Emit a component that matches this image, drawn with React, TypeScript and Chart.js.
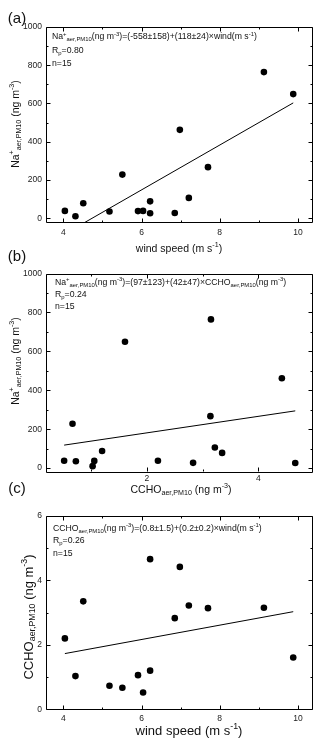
import React, { useEffect, useRef } from "react";
import { Chart, registerables } from "chart.js";

Chart.register(...registerables);

const FONT = '"Liberation Sans", Arial, sans-serif';

// 15 samples, ordered by wind speed (m s-1)
const windSpeed = [4.04, 4.31, 4.51, 5.18, 5.51, 5.91, 6.04, 6.22, 6.22, 6.85, 6.98, 7.21, 7.7, 9.13, 9.88];
const naAerPM10 = [38, 10, 78, 35, 228, 37, 38, 26, 88, 27, 462, 106, 267, 764, 649];
const cchoAerPM10 = [2.2, 1.03, 3.35, 0.73, 0.67, 1.06, 0.52, 4.66, 1.2, 2.83, 4.42, 3.22, 3.14, 3.15, 1.61];

// regression line end points
const fitAX = [4.04, 9.88];
const fitAY = [-82, 603];
const fitBX = [0.52, 4.66];
const fitBY = [118, 294];
const fitCX = [4.04, 9.88];
const fitCY = [1.73, 3.03];

// tick values
const xTicksWind = [4, 6, 8, 10];
const xMinorWind = [5, 7, 9];
const yTicksNa = [0, 200, 400, 600, 800, 1000];
const yMinorNa = [100, 300, 500, 700, 900];
const xTicksCcho = [2, 4];
const xMinorCcho = [1, 3];
const yTicksCcho = [0, 2, 4, 6];
const yMinorCcho = [1, 3, 5];

type Seg = [string, string?];

const NA: Seg[] = [["Na"], ["+", "sup"], ["aer,PM10", "sub"]];
const CCHO: Seg[] = [["CCHO"], ["aer,PM10", "sub"]];
const NG: Seg[] = [["(ng m"], ["-3", "sup"], [")"]];
const WIND_TITLE: Seg[] = [["wind speed (m s"], ["-1", "sup"], [")"]];

interface Panel {
  top: number;
  height: number;
  areaTop: number;
  areaBottom: number;
  xMin: number;
  xMax: number;
  yMin: number;
  yMax: number;
  xTicks: number[];
  xMinor: number[];
  yTicks: number[];
  yMinor: number[];
  xs: number[];
  ys: number[];
  fitX: number[];
  fitY: number[];
  xTickPad: number;
  label: string;
  labelPos: [number, number];
  xTitle: Seg[];
  xTitlePos: [number, number];
  xTitleSize: number;
  yTitle: Seg[];
  yTitlePos: [number, number];
  yTitleSize: number;
  notes: Seg[][];
  notesX: number;
  notesY: number[];
}

const panels: Panel[] = [
  {
    top: 0, height: 258, areaTop: 27, areaBottom: 222,
    xMin: 3.557, xMax: 10.36, yMin: -20, yMax: 1000,
    xTicks: xTicksWind, xMinor: xMinorWind, yTicks: yTicksNa, yMinor: yMinorNa,
    xs: windSpeed, ys: naAerPM10, fitX: fitAX, fitY: fitAY, xTickPad: 6,
    label: "(a)", labelPos: [17, 18.5],
    xTitle: WIND_TITLE, xTitlePos: [179, 249], xTitleSize: 10.5,
    yTitle: [...NA, [" "], ...NG], yTitlePos: [16, 124], yTitleSize: 10.5,
    notes: [
      [...NA, ...NG, ["=(-558±158)+(118±24)×wind(m s"], ["-1", "sup"], [")"]],
      [["R"], ["p", "sub"], ["=0.80"]],
      [["n=15"]],
    ],
    notesX: 52, notesY: [37, 50.5, 64],
  },
  {
    top: 245, height: 255, areaTop: 28.5, areaBottom: 226,
    xMin: 0.195, xMax: 4.96, yMin: -15, yMax: 1000,
    xTicks: xTicksCcho, xMinor: xMinorCcho, yTicks: yTicksNa, yMinor: yMinorNa,
    xs: cchoAerPM10, ys: naAerPM10, fitX: fitBX, fitY: fitBY, xTickPad: 3,
    label: "(b)", labelPos: [17, 11.5],
    xTitle: [...CCHO, [" "], ...NG], xTitlePos: [181, 245], xTitleSize: 10.5,
    yTitle: [...NA, [" "], ...NG], yTitlePos: [16, 116], yTitleSize: 10.5,
    notes: [
      [...NA, ...NG, ["=(97±123)+(42±47)×"], ...CCHO, ...NG],
      [["R"], ["p", "sub"], ["=0.24"]],
      [["n=15"]],
    ],
    notesX: 55, notesY: [37.5, 49.5, 61.5],
  },
  {
    top: 480, height: 269, areaTop: 36, areaBottom: 229.3,
    xMin: 3.557, xMax: 10.36, yMin: 0, yMax: 6,
    xTicks: xTicksWind, xMinor: xMinorWind, yTicks: yTicksCcho, yMinor: yMinorCcho,
    xs: windSpeed, ys: cchoAerPM10, fitX: fitCX, fitY: fitCY, xTickPad: 4,
    label: "(c)", labelPos: [17, 9],
    xTitle: WIND_TITLE, xTitlePos: [189, 251], xTitleSize: 13,
    yTitle: [...CCHO, [" "], ...NG], yTitlePos: [29, 137], yTitleSize: 13,
    notes: [
      [...CCHO, ...NG, ["=(0.8±1.5)+(0.2±0.2)×wind(m s"], ["-1", "sup"], [")"]],
      [["R"], ["p", "sub"], ["=0.26"]],
      [["n=15"]],
    ],
    notesX: 53, notesY: [48.5, 61, 73.5],
  },
];

function drawRich(
  ctx: CanvasRenderingContext2D,
  segs: Seg[],
  x: number,
  y: number,
  size: number,
  align: "left" | "center"
) {
  const small = size * 0.68;
  const parts = segs.map(([t, k]) => {
    const fs = k ? small : size;
    ctx.font = `${fs}px ${FONT}`;
    return { t, k, fs, w: ctx.measureText(t).width };
  });
  const total = parts.reduce((s, p) => s + p.w, 0);
  let cx = align === "center" ? x - total / 2 : x;
  ctx.textAlign = "left";
  ctx.textBaseline = "middle";
  for (const p of parts) {
    ctx.font = `${p.fs}px ${FONT}`;
    const dy = p.k === "sub" ? size * 0.3 : p.k === "sup" ? -size * 0.33 : 0;
    ctx.fillText(p.t, cx, y + dy);
    cx += p.w;
  }
}

function makePlugin(p: Panel) {
  return {
    id: "originFrame",
    afterDatasetsDraw(chart: any) {
      const { ctx, chartArea: a, scales } = chart;
      const xs = scales.x;
      const ys = scales.y;
      ctx.save();
      ctx.strokeStyle = "#000";
      ctx.lineWidth = 1;
      ctx.beginPath();
      ctx.rect(Math.round(a.left) + 0.5, Math.round(a.top) + 0.5, Math.round(a.right - a.left), Math.round(a.bottom - a.top));
      ctx.stroke();
      const seg = (x1: number, y1: number, x2: number, y2: number) => {
        ctx.beginPath();
        ctx.moveTo(x1, y1);
        ctx.lineTo(x2, y2);
        ctx.stroke();
      };
      const L = Math.round(a.left) + 0.5;
      const R = Math.round(a.right) + 0.5;
      const T = Math.round(a.top) + 0.5;
      const B = Math.round(a.bottom) + 0.5;
      const xTick = (v: number, len: number) => {
        const px = Math.round(xs.getPixelForValue(v)) + 0.5;
        seg(px, B, px, B - len);
        seg(px, T, px, T + len);
      };
      const yTick = (v: number, len: number) => {
        const py = Math.round(ys.getPixelForValue(v)) + 0.5;
        seg(L, py, L + len, py);
        seg(R, py, R - len, py);
      };
      p.xTicks.forEach((v) => xTick(v, 4));
      p.xMinor.forEach((v) => xTick(v, 2));
      p.yTicks.forEach((v) => yTick(v, 4));
      p.yMinor.forEach((v) => yTick(v, 2));

      ctx.fillStyle = "#111";
      ctx.font = `15px ${FONT}`;
      ctx.textAlign = "center";
      ctx.textBaseline = "middle";
      ctx.fillText(p.label, p.labelPos[0], p.labelPos[1]);
      drawRich(ctx, p.xTitle, p.xTitlePos[0], p.xTitlePos[1], p.xTitleSize, "center");
      ctx.save();
      ctx.translate(p.yTitlePos[0], p.yTitlePos[1]);
      ctx.rotate(-Math.PI / 2);
      drawRich(ctx, p.yTitle, 0, 0, p.yTitleSize, "center");
      ctx.restore();
      p.notes.forEach((line, i) => drawRich(ctx, line, p.notesX, p.notesY[i], 8.7, "left"));
      ctx.restore();
    },
  };
}

function PanelChart({ p }: { p: Panel }) {
  const ref = useRef<HTMLCanvasElement | null>(null);
  useEffect(() => {
    if (!ref.current) return;
    const points = p.xs.map((x, i) => ({ x, y: p.ys[i] }));
    const fit = p.fitX.map((x, i) => ({ x, y: p.fitY[i] }));
    const tickFont = { size: 8.5, family: FONT };
    const chart = new Chart(ref.current, {
      type: "scatter",
      data: {
        datasets: [
          {
            data: fit,
            showLine: true,
            borderColor: "#000",
            borderWidth: 1,
            pointRadius: 0,
            fill: false,
          } as any,
          {
            data: points,
            pointRadius: 3.3,
            pointBackgroundColor: "#000",
            pointBorderWidth: 0,
            backgroundColor: "#000",
          } as any,
        ],
      },
      options: {
        responsive: false,
        animation: false,
        devicePixelRatio: 1,
        events: [],
        layout: { padding: { top: p.areaTop, right: 8, left: 0, bottom: 0 } },
        plugins: { legend: { display: false }, tooltip: { enabled: false } },
        scales: {
          x: {
            type: "linear",
            min: p.xMin,
            max: p.xMax,
            grid: { display: false, drawTicks: false },
            border: { display: false },
            ticks: {
              font: tickFont,
              color: "#222",
              padding: p.xTickPad,
              maxRotation: 0,
              autoSkip: false,
              callback: (v: any) => String(v),
            },
            afterBuildTicks: (s: any) => {
              s.ticks = p.xTicks.map((v) => ({ value: v }));
            },
            afterFit: (s: any) => {
              s.height = p.height - p.areaBottom;
            },
          },
          y: {
            type: "linear",
            min: p.yMin,
            max: p.yMax,
            grid: { display: false, drawTicks: false },
            border: { display: false },
            ticks: {
              font: tickFont,
              color: "#222",
              padding: 4,
              autoSkip: false,
              callback: (v: any) => String(v),
            },
            afterBuildTicks: (s: any) => {
              s.ticks = p.yTicks.map((v) => ({ value: v }));
            },
            afterFit: (s: any) => {
              s.width = 46;
            },
          },
        },
      } as any,
      plugins: [makePlugin(p)],
    });
    return () => chart.destroy();
  }, [p]);
  return (
    <canvas
      ref={ref}
      width={320}
      height={p.height}
      style={{ position: "absolute", left: 0, top: p.top, width: 320, height: p.height }}
    />
  );
}

export default function App() {
  return (
    <div style={{ position: "absolute", left: 0, top: 0, width: 320, height: 749, background: "#fff", overflow: "hidden" }}>
      {panels.map((p, i) => (
        <PanelChart key={i} p={p} />
      ))}
    </div>
  );
}
